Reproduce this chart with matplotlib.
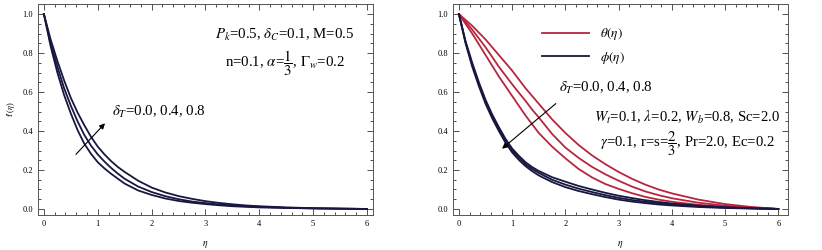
import numpy as np
import matplotlib.pyplot as plt
from matplotlib.ticker import MultipleLocator, FormatStrFormatter

plt.rcParams["font.family"] = "Liberation Serif"
plt.rcParams["mathtext.fontset"] = "stix"

# eta grid
eta = [0, 0.125, 0.25, 0.375, 0.5, 0.625, 0.75, 0.875, 1.0, 1.125, 1.25, 1.375,
       1.5, 1.75, 2.0, 2.25, 2.5, 2.75, 3.0, 3.25, 3.5, 3.75, 4.0, 4.5, 5.0,
       5.5, 6.0]

# f'(eta) for delta_T = 0.0, 0.4, 0.8
fp_00 = [1.0, 0.835, 0.70, 0.585, 0.49, 0.405, 0.335, 0.283, 0.24, 0.208, 0.18,
         0.155, 0.13, 0.095, 0.072, 0.054, 0.041, 0.032, 0.025, 0.019, 0.014,
         0.011, 0.008, 0.005, 0.003, 0.001, 0.0]
fp_04 = [1.0, 0.85, 0.73, 0.62, 0.53, 0.45, 0.38, 0.325, 0.28, 0.243, 0.21,
         0.181, 0.155, 0.115, 0.087, 0.066, 0.05, 0.038, 0.03, 0.023, 0.018,
         0.014, 0.011, 0.006, 0.003, 0.0015, 0.0]
fp_08 = [1.0, 0.87, 0.76, 0.66, 0.57, 0.495, 0.43, 0.37, 0.32, 0.28, 0.245,
         0.215, 0.19, 0.145, 0.11, 0.085, 0.066, 0.052, 0.04, 0.031, 0.024,
         0.018, 0.014, 0.008, 0.004, 0.002, 0.0]

# theta(eta) for delta_T = 0.0, 0.4, 0.8 (top to bottom)
th_00 = [1.0, 0.97, 0.94, 0.905, 0.87, 0.83, 0.79, 0.75, 0.71, 0.665, 0.62,
         0.58, 0.54, 0.46, 0.39, 0.328, 0.275, 0.23, 0.19, 0.155, 0.125,
         0.10, 0.08, 0.048, 0.025, 0.01, 0.0]
th_04 = [1.0, 0.96, 0.92, 0.875, 0.83, 0.78, 0.73, 0.685, 0.64, 0.597, 0.555,
         0.51, 0.47, 0.385, 0.315, 0.262, 0.216, 0.178, 0.145, 0.115, 0.09,
         0.071, 0.055, 0.032, 0.017, 0.007, 0.0]
th_08 = [1.0, 0.95, 0.90, 0.845, 0.79, 0.735, 0.68, 0.63, 0.58, 0.53, 0.48,
         0.435, 0.39, 0.32, 0.26, 0.205, 0.162, 0.128, 0.103, 0.081, 0.062,
         0.048, 0.037, 0.021, 0.011, 0.005, 0.0]

# phi(eta) for delta_T = 0.0, 0.4, 0.8 (top to bottom)
ph_00 = [1.0, 0.86, 0.75, 0.65, 0.56, 0.485, 0.42, 0.36, 0.31, 0.273, 0.24,
         0.215, 0.195, 0.163, 0.14, 0.118, 0.10, 0.083, 0.068, 0.056, 0.045,
         0.036, 0.028, 0.017, 0.009, 0.004, 0.0]
ph_04 = [1.0, 0.855, 0.74, 0.64, 0.55, 0.475, 0.41, 0.35, 0.30, 0.263, 0.23,
         0.205, 0.185, 0.15, 0.125, 0.104, 0.087, 0.071, 0.057, 0.046, 0.037,
         0.029, 0.023, 0.014, 0.007, 0.003, 0.0]
ph_08 = [1.0, 0.85, 0.73, 0.63, 0.54, 0.465, 0.40, 0.34, 0.29, 0.252, 0.22,
         0.194, 0.172, 0.138, 0.112, 0.092, 0.076, 0.061, 0.048, 0.038, 0.030,
         0.023, 0.018, 0.010, 0.005, 0.002, 0.0]

navy = "#17173f"
red = "#b8253f"

fig = plt.figure(figsize=(8.22, 2.5), dpi=100)
ax1 = fig.add_axes([0.0462, 0.14, 0.4075, 0.844])
ax2 = fig.add_axes([0.551, 0.14, 0.4075, 0.844])


def style(ax):
    ax.set_xlim(-0.11, 6.11)
    ax.set_ylim(-0.031, 1.052)
    ax.xaxis.set_major_locator(MultipleLocator(1))
    ax.xaxis.set_minor_locator(MultipleLocator(0.2))
    ax.yaxis.set_major_locator(MultipleLocator(0.2))
    ax.yaxis.set_minor_locator(MultipleLocator(0.05))
    ax.yaxis.set_major_formatter(FormatStrFormatter("%.1f"))
    ax.tick_params(which="both", direction="in", top=True, right=True,
                   labelsize=6, width=0.6, color="#333333")
    ax.tick_params(which="major", length=4)
    ax.tick_params(which="minor", length=2)
    for s in ax.spines.values():
        s.set_linewidth(0.7)
        s.set_color("#555555")
    ax.set_xlabel(r"$\eta$", fontsize=7, labelpad=8)


for y in (fp_00, fp_04, fp_08):
    ax1.plot(eta, y, color=navy, lw=1.3)
style(ax1)
ax1.set_ylabel(r"f'($\eta$)", fontsize=6, labelpad=4)
ax1.annotate("", xy=(1.17, 0.45), xytext=(0.56, 0.27),
             arrowprops=dict(arrowstyle="-|>", color="black", lw=0.8,
                             mutation_scale=8))
ax1.text(1.26, 0.50, r"$\delta_T$=0.0, 0.4, 0.8", fontsize=10.7, va="center")
ax1.text(0.737, 0.853, r"$P_k$=0.5, $\delta_C$=0.1, M=0.5", fontsize=10.7,
         ha="center", va="center", transform=ax1.transAxes)
ax1.text(0.737, 0.72, r"n=0.1, $\alpha$=$\dfrac{1}{3}$, $\Gamma_w$=0.2",
         fontsize=10.7, ha="center", va="center", transform=ax1.transAxes)

for i, y in enumerate((th_00, th_04, th_08)):
    ax2.plot(eta, y, color=red, lw=1.3, label=r"$\theta(\eta)$" if i == 0 else None)
for i, y in enumerate((ph_00, ph_04, ph_08)):
    ax2.plot(eta, y, color=navy, lw=1.3, label=r"$\phi(\eta)$" if i == 0 else None)
style(ax2)
ax2.set_xlim(-0.113, 6.18)
ax2.legend(loc="upper left", bbox_to_anchor=(0.23, 0.95), frameon=False,
           fontsize=9.5, handlelength=3.6, handletextpad=0.8, labelspacing=0.55)
ax2.annotate("", xy=(0.77, 0.30), xytext=(1.86, 0.55),
             arrowprops=dict(arrowstyle="-|>", color="black", lw=0.8,
                             mutation_scale=8))
ax2.text(1.88, 0.62, r"$\delta_T$=0.0, 0.4, 0.8", fontsize=10.7, va="center")
ax2.text(0.70, 0.46, r"$W_t$=0.1, $\lambda$=0.2, $W_b$=0.8, Sc=2.0",
         fontsize=10.6, ha="center", va="center", transform=ax2.transAxes)
ax2.text(0.70, 0.34, r"$\gamma$=0.1, r=s=$\dfrac{2}{3}$, Pr=2.0, Ec=0.2",
         fontsize=10.6, ha="center", va="center", transform=ax2.transAxes)

fig.savefig("out.png", dpi=100)
